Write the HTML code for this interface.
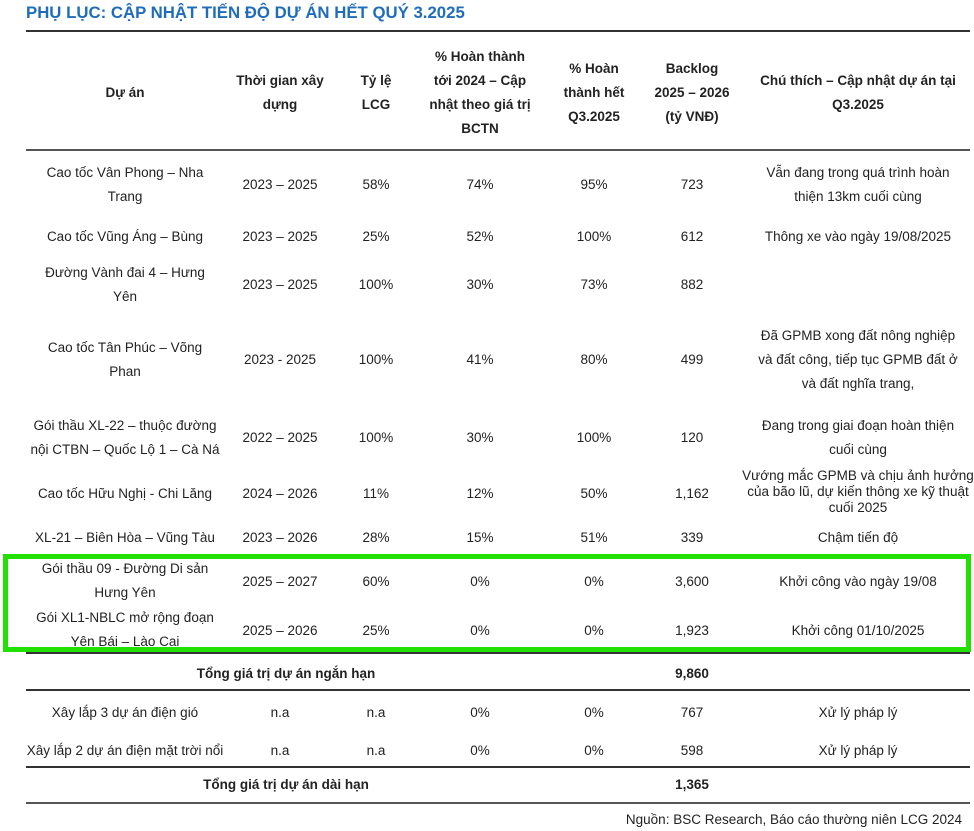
<!DOCTYPE html>
<html><head><meta charset="utf-8"><style>
body{margin:0;width:974px;height:831px;background:#fff;position:relative;overflow:hidden;font-family:"Liberation Sans","Noto Sans CJK SC",sans-serif;color:#222;}
.c{position:absolute;transform:translate(-50%,calc(-50% + 1px));text-align:center;white-space:nowrap;font-size:13.5px;line-height:24px;}
.b{font-weight:bold;}
.s{line-height:16px;}
.l{position:absolute;left:26px;width:944px;height:2px;background:#333;}
</style></head><body>
<div style="position:absolute;left:26px;top:3px;font-size:16.8px;font-weight:bold;color:#1f6dba;">PHỤ LỤC: CẬP NHẬT TIẾN ĐỘ DỰ ÁN HẾT QUÝ 3.2025</div>
<div class="l" style="top:30px"></div>
<div class="l" style="top:149px;background:#555"></div>
<div class="l" style="top:652px"></div>
<div class="l" style="top:689px"></div>
<div class="l" style="top:766px"></div>
<div class="l" style="top:802px;background:#555"></div>
<div style="position:absolute;left:3px;top:554px;width:958px;height:88px;border:5px solid #22e000;"></div>

<div class="c b" style="left:125px;top:92px">Dự án</div>
<div class="c b" style="left:280px;top:92px">Thời gian xây<br>dựng</div>
<div class="c b" style="left:376px;top:92px">Tỷ lệ<br>LCG</div>
<div class="c b" style="left:480px;top:92px">% Hoàn thành<br>tới 2024 – Cập<br>nhật theo giá trị<br>BCTN</div>
<div class="c b" style="left:594px;top:92px">% Hoàn<br>thành hết<br>Q3.2025</div>
<div class="c b" style="left:692px;top:92px">Backlog<br>2025 – 2026<br>(tỷ VNĐ)</div>
<div class="c b" style="left:858px;top:92px">Chú thích – Cập nhật dự án tại<br>Q3.2025</div>

<div class="c" style="left:125px;top:184px">Cao tốc Vân Phong – Nha<br>Trang</div>
<div class="c" style="left:280px;top:184px">2023 – 2025</div><div class="c" style="left:376px;top:184px">58%</div><div class="c" style="left:480px;top:184px">74%</div><div class="c" style="left:594px;top:184px">95%</div><div class="c" style="left:692px;top:184px">723</div>
<div class="c" style="left:858px;top:184px">Vẫn đang trong quá trình hoàn<br>thiện 13km cuối cùng</div>

<div class="c" style="left:125px;top:236px">Cao tốc Vũng Áng – Bùng</div>
<div class="c" style="left:280px;top:236px">2023 – 2025</div><div class="c" style="left:376px;top:236px">25%</div><div class="c" style="left:480px;top:236px">52%</div><div class="c" style="left:594px;top:236px">100%</div><div class="c" style="left:692px;top:236px">612</div>
<div class="c" style="left:858px;top:236px">Thông xe vào ngày 19/08/2025</div>

<div class="c" style="left:125px;top:284px">Đường Vành đai 4 – Hưng<br>Yên</div>
<div class="c" style="left:280px;top:284px">2023 – 2025</div><div class="c" style="left:376px;top:284px">100%</div><div class="c" style="left:480px;top:284px">30%</div><div class="c" style="left:594px;top:284px">73%</div><div class="c" style="left:692px;top:284px">882</div>

<div class="c" style="left:125px;top:359px">Cao tốc Tân Phúc – Võng<br>Phan</div>
<div class="c" style="left:280px;top:359px">2023 - 2025</div><div class="c" style="left:376px;top:359px">100%</div><div class="c" style="left:480px;top:359px">41%</div><div class="c" style="left:594px;top:359px">80%</div><div class="c" style="left:692px;top:359px">499</div>
<div class="c" style="left:858px;top:359px">Đã GPMB xong đất nông nghiệp<br>và đất công, tiếp tục GPMB đất ở<br>và đất nghĩa trang,</div>

<div class="c" style="left:125px;top:437px">Gói thầu XL-22 – thuộc đường<br>nội CTBN – Quốc Lộ 1 – Cà Ná</div>
<div class="c" style="left:280px;top:437px">2022 – 2025</div><div class="c" style="left:376px;top:437px">100%</div><div class="c" style="left:480px;top:437px">30%</div><div class="c" style="left:594px;top:437px">100%</div><div class="c" style="left:692px;top:437px">120</div>
<div class="c" style="left:858px;top:437px">Đang trong giai đoạn hoàn thiện<br>cuối cùng</div>

<div class="c" style="left:125px;top:493px">Cao tốc Hữu Nghị - Chi Lăng</div>
<div class="c" style="left:280px;top:493px">2024 – 2026</div><div class="c" style="left:376px;top:493px">11%</div><div class="c" style="left:480px;top:493px">12%</div><div class="c" style="left:594px;top:493px">50%</div><div class="c" style="left:692px;top:493px">1,162</div>
<div class="c s" style="left:858px;top:491px">Vướng mắc GPMB và chịu ảnh hưởng<br>của bão lũ, dự kiến thông xe kỹ thuật<br>cuối 2025</div>

<div class="c" style="left:125px;top:537px">XL-21 – Biên Hòa – Vũng Tàu</div>
<div class="c" style="left:280px;top:537px">2023 – 2026</div><div class="c" style="left:376px;top:537px">28%</div><div class="c" style="left:480px;top:537px">15%</div><div class="c" style="left:594px;top:537px">51%</div><div class="c" style="left:692px;top:537px">339</div>
<div class="c" style="left:858px;top:537px">Chậm tiến độ</div>

<div class="c" style="left:125px;top:580px">Gói thầu 09 - Đường Di sản<br>Hưng Yên</div>
<div class="c" style="left:280px;top:581px">2025 – 2027</div><div class="c" style="left:376px;top:581px">60%</div><div class="c" style="left:480px;top:581px">0%</div><div class="c" style="left:594px;top:581px">0%</div><div class="c" style="left:692px;top:581px">3,600</div>
<div class="c" style="left:858px;top:581px">Khởi công vào ngày 19/08</div>

<div class="c" style="left:125px;top:629px">Gói XL1-NBLC mở rộng đoạn<br>Yên Bái – Lào Cai</div>
<div class="c" style="left:280px;top:630px">2025 – 2026</div><div class="c" style="left:376px;top:630px">25%</div><div class="c" style="left:480px;top:630px">0%</div><div class="c" style="left:594px;top:630px">0%</div><div class="c" style="left:692px;top:630px">1,923</div>
<div class="c" style="left:858px;top:630px">Khởi công 01/10/2025</div>

<div class="c b" style="left:286px;top:673px">Tổng giá trị dự án ngắn hạn</div>
<div class="c b" style="left:692px;top:673px">9,860</div>

<div class="c" style="left:125px;top:712px">Xây lắp 3 dự án điện gió</div>
<div class="c" style="left:280px;top:712px">n.a</div><div class="c" style="left:376px;top:712px">n.a</div><div class="c" style="left:480px;top:712px">0%</div><div class="c" style="left:594px;top:712px">0%</div><div class="c" style="left:692px;top:712px">767</div>
<div class="c" style="left:858px;top:712px">Xử lý pháp lý</div>

<div class="c" style="left:125px;top:750px">Xây lắp 2 dự án điện mặt trời nổi</div>
<div class="c" style="left:280px;top:750px">n.a</div><div class="c" style="left:376px;top:750px">n.a</div><div class="c" style="left:480px;top:750px">0%</div><div class="c" style="left:594px;top:750px">0%</div><div class="c" style="left:692px;top:750px">598</div>
<div class="c" style="left:858px;top:750px">Xử lý pháp lý</div>

<div class="c b" style="left:286px;top:784px">Tổng giá trị dự án dài hạn</div>
<div class="c b" style="left:692px;top:784px">1,365</div>

<div style="position:absolute;right:12px;top:812px;font-size:13.5px;">Nguồn: BSC Research, Báo cáo thường niên LCG 2024</div>
</body></html>
